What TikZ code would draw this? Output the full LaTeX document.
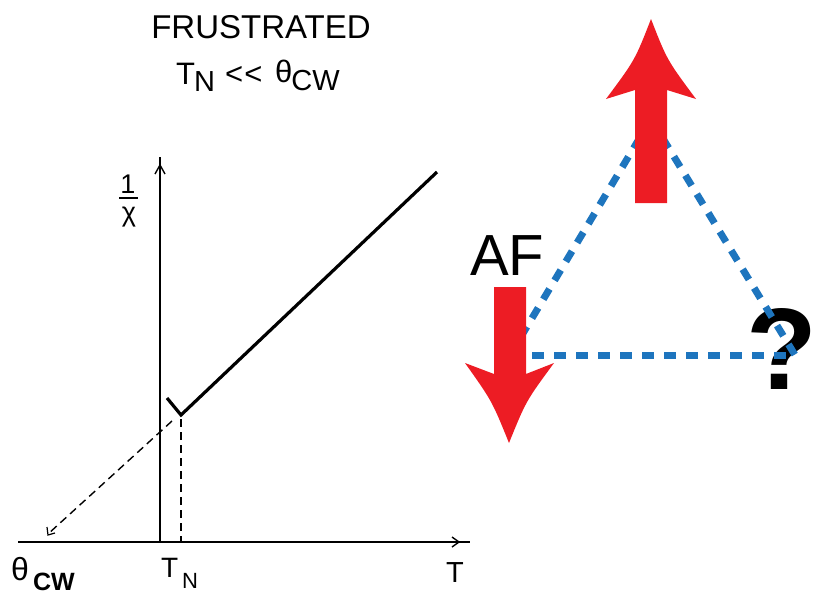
\documentclass[tikz,border=0pt]{standalone}
\usepackage{fontspec}
\setmainfont{Liberation Sans}
\definecolor{spinred}{RGB}{237,28,36}
\definecolor{bondblue}{RGB}{30,117,190}
\begin{document}
\begin{tikzpicture}[x=1pt,y=-1pt,
  lbl/.style={inner sep=0pt, anchor=base west},
  axisline/.style={line width=2.3pt},
  curve/.style={line width=3.2pt, line join=miter},
  guide/.style={line width=1.4pt, dash pattern=on 8pt off 5pt},
  tick/.style={line width=1.4pt},
  bond/.style={bondblue, line width=7pt, dash pattern=on 12pt off 10pt},
  spin/.style={fill=spinred}]
\useasboundingbox (0,0) rectangle (817,595);

% ---------- title ----------
\node[inner sep=0pt, anchor=base] (title) at (261,38) {\fontsize{33}{36}\selectfont FRUSTRATED};
\node[lbl] (tTN) at (176,84) {\fontsize{31}{34}\selectfont T\kern-1pt\raisebox{-7pt}{\fontsize{29}{32}\selectfont N}};
\node[lbl] (tll) at (225,84) {\fontsize{31}{34}\selectfont <\kern1pt<};
\node[lbl] (tth) at (275,82) {\fontsize{31}{34}\selectfont θ\kern-1pt\raisebox{-8pt}{\fontsize{29}{32}\selectfont CW}};

% ---------- plot ----------
\coordinate (xl) at (18,542);
\coordinate (xr) at (470,542);
\coordinate (o) at (160,542);
\coordinate (yt) at (160,157);
\draw[axisline] (xl) -- (xr);
\draw[axisline] (o) -- (yt);
\draw[tick] (155,174) -- (160,165) -- (165,174);
\draw[tick] (452,537) -- (459,542) -- (452,547);

\coordinate (vs) at (167,398);
\coordinate (vm) at (181,415);
\coordinate (ve) at (437,172);
\draw[curve] (vs) -- (vm) -- (ve);

\coordinate (ds) at (172,421);
\coordinate (de) at (48,534);
\draw[guide] (ds) -- (de);
\draw[tick, line width=1.2pt] (47,527) -- (48,535) -- (55,533);
\coordinate (vd1) at (181,419);
\coordinate (vd2) at (181,541);
\draw[guide] (vd1) -- (vd2);

% axis labels
\node[inner sep=0pt, anchor=base] (one) at (128,193) {\fontsize{27}{30}\selectfont 1};
\coordinate (fb1) at (119,198);
\coordinate (fb2) at (138,198);
\draw[line width=1.6pt] (fb1) -- (fb2);
\node[inner sep=0pt, anchor=base] (chi) at (129,221) {\fontsize{27}{30}\selectfont χ};

\node[lbl] (bth) at (11,580) {\fontsize{32}{34}\selectfont θ};
\node[lbl] (bcw) at (33,590) {\fontsize{25}{27}\selectfont\bfseries CW};
\node[lbl] (bT) at (161,577) {\fontsize{28}{30}\selectfont T};
\node[lbl] (bN) at (182,588) {\fontsize{22}{24}\selectfont N};
\node[lbl] (rT) at (446,582) {\fontsize{29}{30}\selectfont T};

% ---------- triangle ----------
\node[inner sep=0pt, anchor=center, font=\bfseries\fontsize{116}{116}\selectfont] (q) at (782,349) {\makebox[56pt]{?}};
\coordinate (L) at (510,355);
\coordinate (A) at (651,119);
\coordinate (R) at (795,355);
\draw[bond] (A) -- (L);
\draw[bond] (L) -- (R);
\draw[bond] (A) -- (R);

% spins
\fill[spin] (651,19) .. controls (635,60) .. (606,99) -- (635,90) -- (635,203)
  -- (667,203) -- (667,90) -- (696,99) .. controls (667,60) .. (651,19) -- cycle;
\fill[spin] (509,443) .. controls (492,401) .. (465,363) -- (494,374) -- (494,287)
  -- (526,287) -- (526,374) -- (554,363) .. controls (526,401) .. (509,443) -- cycle;

\node[lbl] (af) at (470,275) {\fontsize{58}{60}\selectfont AF};
\end{tikzpicture}
\end{document}
